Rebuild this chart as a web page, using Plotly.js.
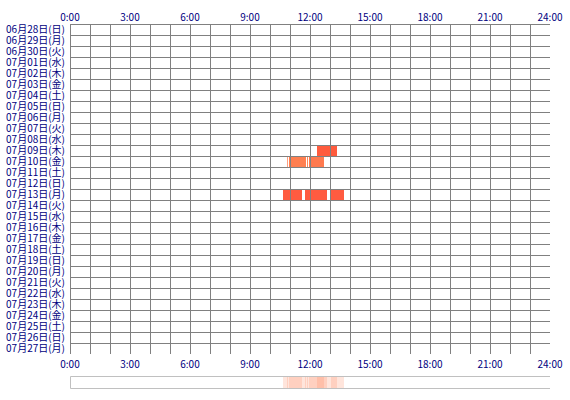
<!DOCTYPE html>
<html>
<head>
<meta charset="utf-8">
<script src="https://cdn.plot.ly/plotly-3.0.1.min.js"></script>
<style>html,body{margin:0;padding:0;background:#fff;}#chart{width:570px;height:400px;}</style>
</head>
<body>
<div id="chart"></div>
<script>
// ---- data ----
const days = ["06月28日(日)","06月29日(月)","06月30日(火)","07月01日(水)","07月02日(木)","07月03日(金)","07月04日(土)","07月05日(日)","07月06日(月)","07月07日(火)","07月08日(水)","07月09日(木)","07月10日(金)","07月11日(土)","07月12日(日)","07月13日(月)","07月14日(火)","07月15日(水)","07月16日(木)","07月17日(金)","07月18日(土)","07月19日(日)","07月20日(月)","07月21日(火)","07月22日(水)","07月23日(木)","07月24日(金)","07月25日(土)","07月26日(日)","07月27日(月)"];
const hourTicks = [0,3,6,9,12,15,18,21,24];
const hourLabels = ["0:00","3:00","6:00","9:00","12:00","15:00","18:00","21:00","24:00"];
const sessionDay   = ["07月09日(木)","07月10日(金)","07月10日(金)","07月10日(金)","07月10日(金)","07月13日(月)","07月13日(月)","07月13日(月)"];
const sessionStart = ["12:21","10:52","10:56","11:51","11:57","10:39","11:45","13:03"];
const sessionEnd   = ["13:21","10:54","11:48","11:55","12:41","11:36","12:51","13:42"];
// ---- styles ----
const sessionColor = ["#FF5B3D","#FFA080","#FF7F50","#FF8A5A","#FF7A4F","#FF5B40","#FF5B40","#FF5B40"];

function toH(s){const p=s.split(":");return +p[0]+ +p[1]/60;}
const st = sessionStart.map(toH);
const dur = sessionEnd.map((e,i)=>toH(e)-st[i]);

const fontFam = '"MS PGothic","Noto Sans CJK JP",sans-serif';
const labelFont = {family: fontFam, size: 10, color: '#000080'};

const W = 570, H = 400, ML = 70, MR = 20, MT = 24, MB = 12;
const plotW = W - ML - MR, plotH = H - MT - MB;
const mainH = 330, stripH = 12;
const hx = 24 / plotW;            // hours per pixel
const ry = days.length / mainH;   // rows per pixel

const traces = [
  {type:'bar', orientation:'h', y:sessionDay, x:dur, base:st, width:1,
   marker:{color:sessionColor, line:{width:0}}, xaxis:'x', yaxis:'y', hoverinfo:'skip', showlegend:false},
  {type:'bar', orientation:'h', y:sessionDay.map(()=>0), x:dur, base:st, width:1,
   marker:{color:'rgba(255,127,80,0.2)', line:{width:0}}, xaxis:'x2', yaxis:'y2', hoverinfo:'skip', showlegend:false},
  {type:'scatter', x:[0,24], y:[days[0],days[0]], mode:'none', xaxis:'x3', yaxis:'y', hoverinfo:'skip', showlegend:false}
];

const shapes = [];
const y0 = -0.5 + 0.5*ry, y1 = days.length - 0.5 + 0.5*ry;
for (let h=0; h<=24; h++) {
  const xx = h + 0.5*hx;
  shapes.push({type:'line', xref:'x', yref:'y', x0:xx, x1:xx, y0:-0.5, y1:y1, line:{color:'#808080', width:1}, layer:'above'});
}
for (let r=0; r<=days.length; r++) {
  const yy = r - 0.5 + 0.5*ry;
  shapes.push({type:'line', xref:'x', yref:'y', x0:0, x1:24 + hx, y0:yy, y1:yy, line:{color:'#808080', width:1}, layer:'above'});
}
shapes.push({type:'rect', xref:'x2', yref:'paper', x0:0.5*hx, x1:24 + 0.5*hx, y0:-0.5/plotH, y1:(stripH-0.5)/plotH,
             line:{color:'#c0c0c0', width:1}, fillcolor:'rgba(0,0,0,0)', layer:'above'});

const layout = {
  width:W, height:H,
  margin:{l:ML, r:MR, t:MT, b:MB},
  paper_bgcolor:'#fff', plot_bgcolor:'#fff',
  barmode:'overlay', bargap:0,
  showlegend:false,
  xaxis:{domain:[0,1], range:[0,24], anchor:'y', side:'bottom', tickmode:'array', tickvals:hourTicks, ticktext:hourLabels,
         showgrid:false, zeroline:false, showline:false, ticks:'outside', ticklen:1, tickcolor:'rgba(0,0,0,0)', tickfont:labelFont, fixedrange:true},
  xaxis3:{range:[0,24], overlaying:'x', anchor:'y', side:'top', tickmode:'array', tickvals:hourTicks, ticktext:hourLabels,
         showgrid:false, zeroline:false, showline:false, ticks:'', tickfont:labelFont, fixedrange:true},
  yaxis:{domain:[(plotH-mainH)/plotH,1], type:'category', categoryarray:days, categoryorder:'array', range:[days.length-0.5,-0.5],
         tickmode:'array', tickvals:days, ticktext:days,
         showgrid:false, zeroline:false, showline:false, ticks:'outside', ticklen:2, tickcolor:'rgba(0,0,0,0)', tickfont:labelFont, fixedrange:true},
  xaxis2:{domain:[0,1], range:[0,24], anchor:'y2', showgrid:false, zeroline:false, showline:false, showticklabels:false, ticks:'', fixedrange:true},
  yaxis2:{domain:[0,stripH/plotH], range:[-0.5,0.5], anchor:'x2', showgrid:false, zeroline:false, showline:false, showticklabels:false, ticks:'', fixedrange:true},
  shapes:shapes
};

Plotly.newPlot('chart', traces, layout, {displayModeBar:false, staticPlot:true});
</script>
</body>
</html>
